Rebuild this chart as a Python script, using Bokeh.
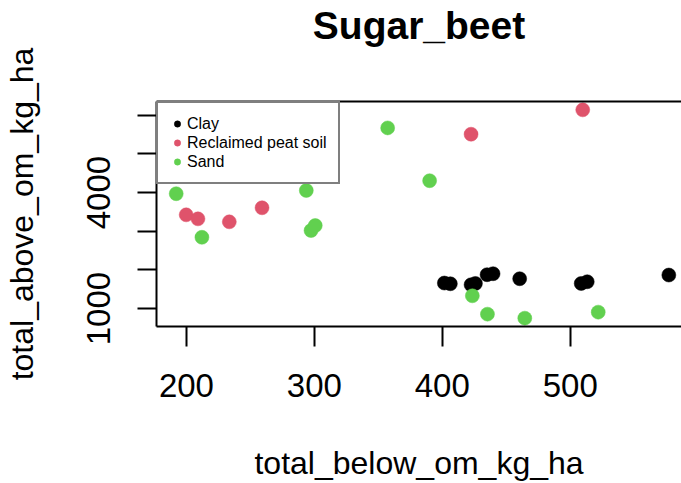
from bokeh.plotting import figure
from bokeh.models import Range1d, LinearAxis, FixedTicker, Legend, LegendItem, ColumnDataSource
from bokeh.embed import file_html
from bokeh.resources import INLINE

# ---- data ----
groups = ["Clay", "Reclaimed peat soil", "Sand"]
colors = ["#000000", "#DF536B", "#61D04F"]

clay_below = [401.6, 406.3, 422.5, 425.9, 435.0, 439.7, 460.5, 508.6, 513.3, 577.1]
clay_above = [1660, 1641, 1615, 1649, 1875, 1901, 1771, 1649, 1693, 1867]
peat_below = [199.8, 209.0, 233.5, 259.1, 422.5, 509.8]
peat_above = [3425, 3321, 3244, 3607, 5511, 6142]
sand_below = [192.0, 212.1, 293.7, 297.4, 300.7, 357.3, 390.1, 423.5, 435.3, 464.5, 521.9]
sand_above = [3971, 2844, 4056, 3018, 3148, 5674, 4308, 1330, 855, 751, 907]

x_ticks = [200, 300, 400, 500]
y_ticks = [1000, 2000, 3000, 4000, 5000, 6000]
y_tick_labels = ["1000", "", "", "4000", "", ""]

title_text = "Sugar_beet"
x_title = "total_below_om_kg_ha"
y_title = "total_above_om_kg_ha"

FONT = "Liberation Sans"

all_x = clay_below + peat_below + sand_below
all_y = clay_above + peat_above + sand_above
xlo, xhi = min(all_x), max(all_x)
ylo, yhi = min(all_y), max(all_y)
x_start = xlo - 0.04 * (xhi - xlo)
x_end = 587
y_start = ylo - 0.04 * (yhi - ylo)
y_end = yhi + 0.04 * (yhi - ylo)

p = figure(width=681, height=483, output_backend="svg", toolbar_location=None,
           x_range=Range1d(x_start, x_end), y_range=Range1d(y_start, y_end),
           x_axis_type=None, y_axis_type=None,
           min_border_left=156, min_border_top=101, min_border_bottom=157, min_border_right=0)
p.outline_line_color = None
p.background_fill_color = "white"
p.border_fill_color = "white"

# title
p.title.text = title_text
p.title.text_font = FONT
p.title.text_font_size = "39px"
p.title.text_font_style = "bold"
p.title.text_color = "black"
p.title.align = "center"
p.title.vertical_align = "bottom"
p.title.standoff = 2

# axes
xaxis = LinearAxis(ticker=FixedTicker(ticks=x_ticks), axis_label=x_title)
yaxis = LinearAxis(ticker=FixedTicker(ticks=y_ticks), axis_label=y_title)
yaxis.major_label_overrides = {t: l for t, l in zip(y_ticks, y_tick_labels)}
topaxis = LinearAxis(ticker=FixedTicker(ticks=[]), axis_label=" ")

for ax in (xaxis, yaxis, topaxis):
    ax.axis_line_color = "black"
    ax.axis_line_width = 2
    ax.major_tick_line_color = "black"
    ax.major_tick_line_width = 2
    ax.minor_tick_line_color = None
    ax.major_tick_in = 0
    ax.major_label_text_font = FONT
    ax.major_label_text_font_size = "33px"
    ax.major_label_text_color = "black"
    ax.axis_label_text_font = FONT
    ax.axis_label_text_font_size = "32px"
    ax.axis_label_text_font_style = "normal"
    ax.axis_label_text_color = "black"

xaxis.major_tick_out = 20
xaxis.major_label_standoff = 27
xaxis.axis_label_standoff = 45

yaxis.major_tick_out = 19
yaxis.major_label_standoff = 27
yaxis.major_label_orientation = "vertical"
yaxis.axis_label_standoff = 45

# the top edge of the box; its blank label keeps the title up high
topaxis.major_tick_out = 0
topaxis.major_label_standoff = 0
topaxis.major_label_text_font_size = "0px"
topaxis.axis_label_text_font_size = "10px"
topaxis.axis_label_standoff = 40

p.add_layout(xaxis, "below")
p.add_layout(yaxis, "left")
p.add_layout(topaxis, "above")

# points
data = [(clay_below, clay_above), (peat_below, peat_above), (sand_below, sand_above)]
items = []
for name, col, (xs, ys) in zip(groups, colors, data):
    src = ColumnDataSource(dict(x=xs, y=ys))
    r = p.scatter("x", "y", source=src, size=14, fill_color=col, line_color=col,
                  line_width=0.5, marker="circle")
    items.append(LegendItem(label=name, renderers=[r]))

legend = Legend(items=items, location="top_left", margin=0, padding=11,
                spacing=0, label_height=19, glyph_height=19, glyph_width=16,
                label_standoff=2, label_text_font=FONT, label_text_font_size="16px",
                label_text_color="black", border_line_color="black", border_line_width=2,
                background_fill_color="white", background_fill_alpha=1.0)
p.add_layout(legend, "center")

open("out.html", "w").write(file_html(p, INLINE))
